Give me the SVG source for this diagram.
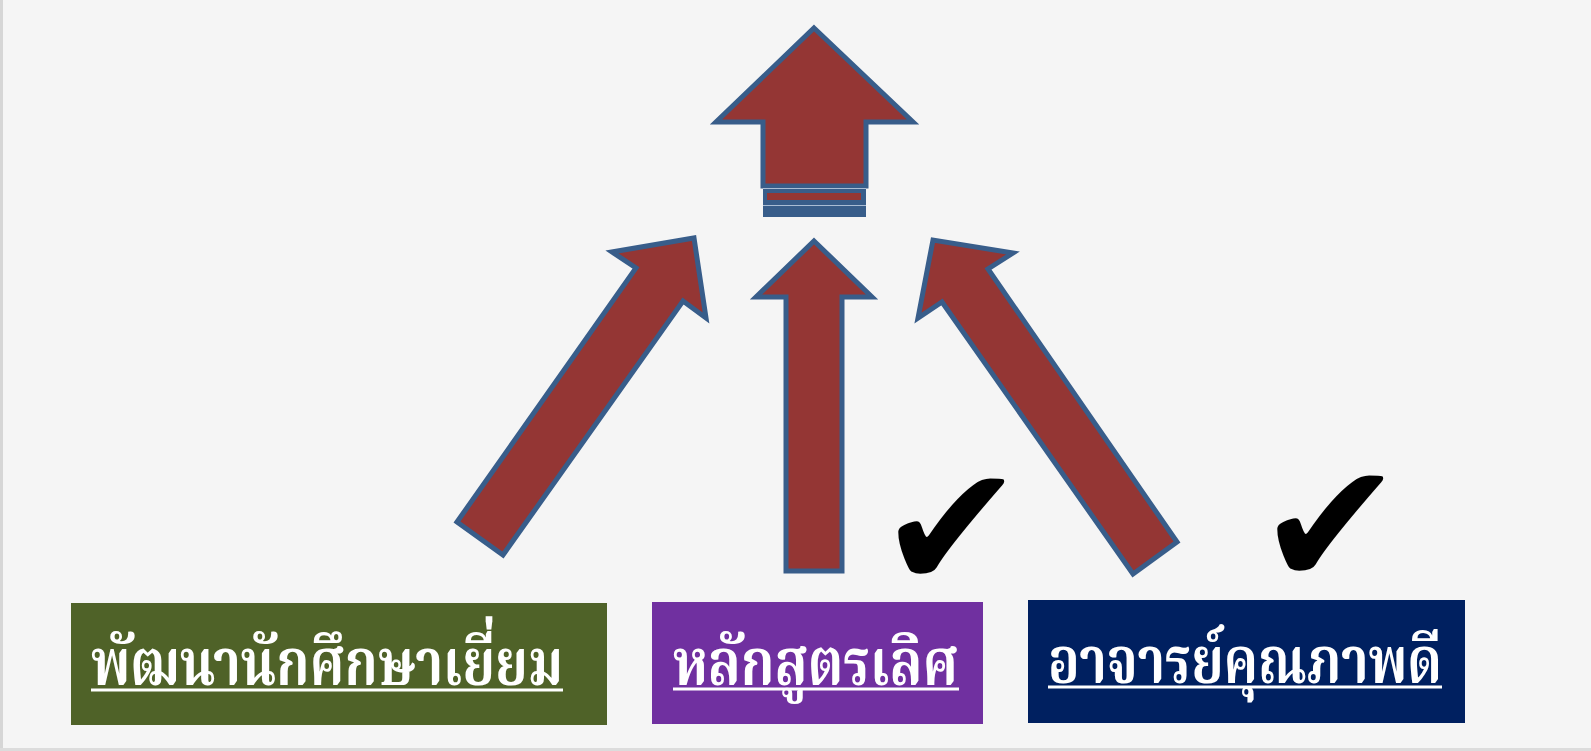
<svg xmlns="http://www.w3.org/2000/svg" width="1591" height="751" viewBox="0 0 1591 751">
<defs>
<style>
.arr{fill:#943634;stroke:#385D8A;stroke-width:5;stroke-linejoin:miter;stroke-miterlimit:10}
.lbl{fill:#ffffff;font-family:"Noto Serif Thai","Norasi","Garuda","Kinnari","Loma","Noto Sans Thai","DejaVu Sans",serif;font-size:65px;font-weight:bold}
.ul{stroke:#ffffff;stroke-width:3}
.chk{fill:#000000;font-family:"DejaVu Sans",sans-serif;font-size:175px}
</style>
</defs>
<rect x="0" y="0" width="1591" height="751" fill="#f5f5f5"/>
<rect x="0" y="0" width="3" height="751" fill="#d6d6d6"/>
<rect x="0" y="748" width="1591" height="3" fill="#dcdcdc"/>
<g id="connectors">
<g id="arrow-top">
<polygon class="arr" points="814,28 913,122 866,122 866,186 763,186 763,122 716,122"/>
<rect x="763" y="188" width="103" height="29" fill="#385D8A"/>
<rect x="767" y="193" width="94" height="7" fill="#943634"/>
<line x1="763" y1="188.5" x2="866" y2="188.5" stroke="#a9bcd4" stroke-width="1"/>
<line x1="763" y1="205.5" x2="866" y2="205.5" stroke="#a9bcd4" stroke-width="1"/>
</g>
<polygon id="arrow-left" class="arr" points="457,522 503,555 683,301 706,318 694,238 612,252 636,268"/>
<polygon id="arrow-center" class="arr" points="814,241 872,297 842,297 842,571 786,571 786,297 756,297"/>
<polygon id="arrow-right" class="arr" points="1177,542 1133,574 942,302 918,318 933,240 1013,253 988,269"/>
</g>
<g id="node-students">
<rect x="71" y="603" width="536" height="122" fill="#4F6228"/>
<text class="lbl" x="91" y="685" textLength="472" lengthAdjust="spacingAndGlyphs">พัฒนานักศึกษาเยี่ยม</text>
<line class="ul" x1="91" y1="690" x2="563" y2="690"/>
</g>
<g id="node-curriculum">
<rect x="652" y="602" width="331" height="122" fill="#7030A0"/>
<text class="lbl" x="673" y="685" textLength="285" lengthAdjust="spacingAndGlyphs">หลักสูตรเลิศ</text>
<line class="ul" x1="673" y1="689" x2="959" y2="689"/>
</g>
<g id="node-teachers">
<rect x="1028" y="600" width="437" height="123" fill="#002060"/>
<text class="lbl" x="1048" y="683" textLength="394" lengthAdjust="spacingAndGlyphs">อาจารย์คุณภาพดี</text>
<line class="ul" x1="1048" y1="687" x2="1442" y2="687"/>
</g>
<g id="check-1"><text class="chk" x="878" y="589">✔</text></g>
<g id="check-2"><text class="chk" x="1257" y="586">✔</text></g>
</svg>
